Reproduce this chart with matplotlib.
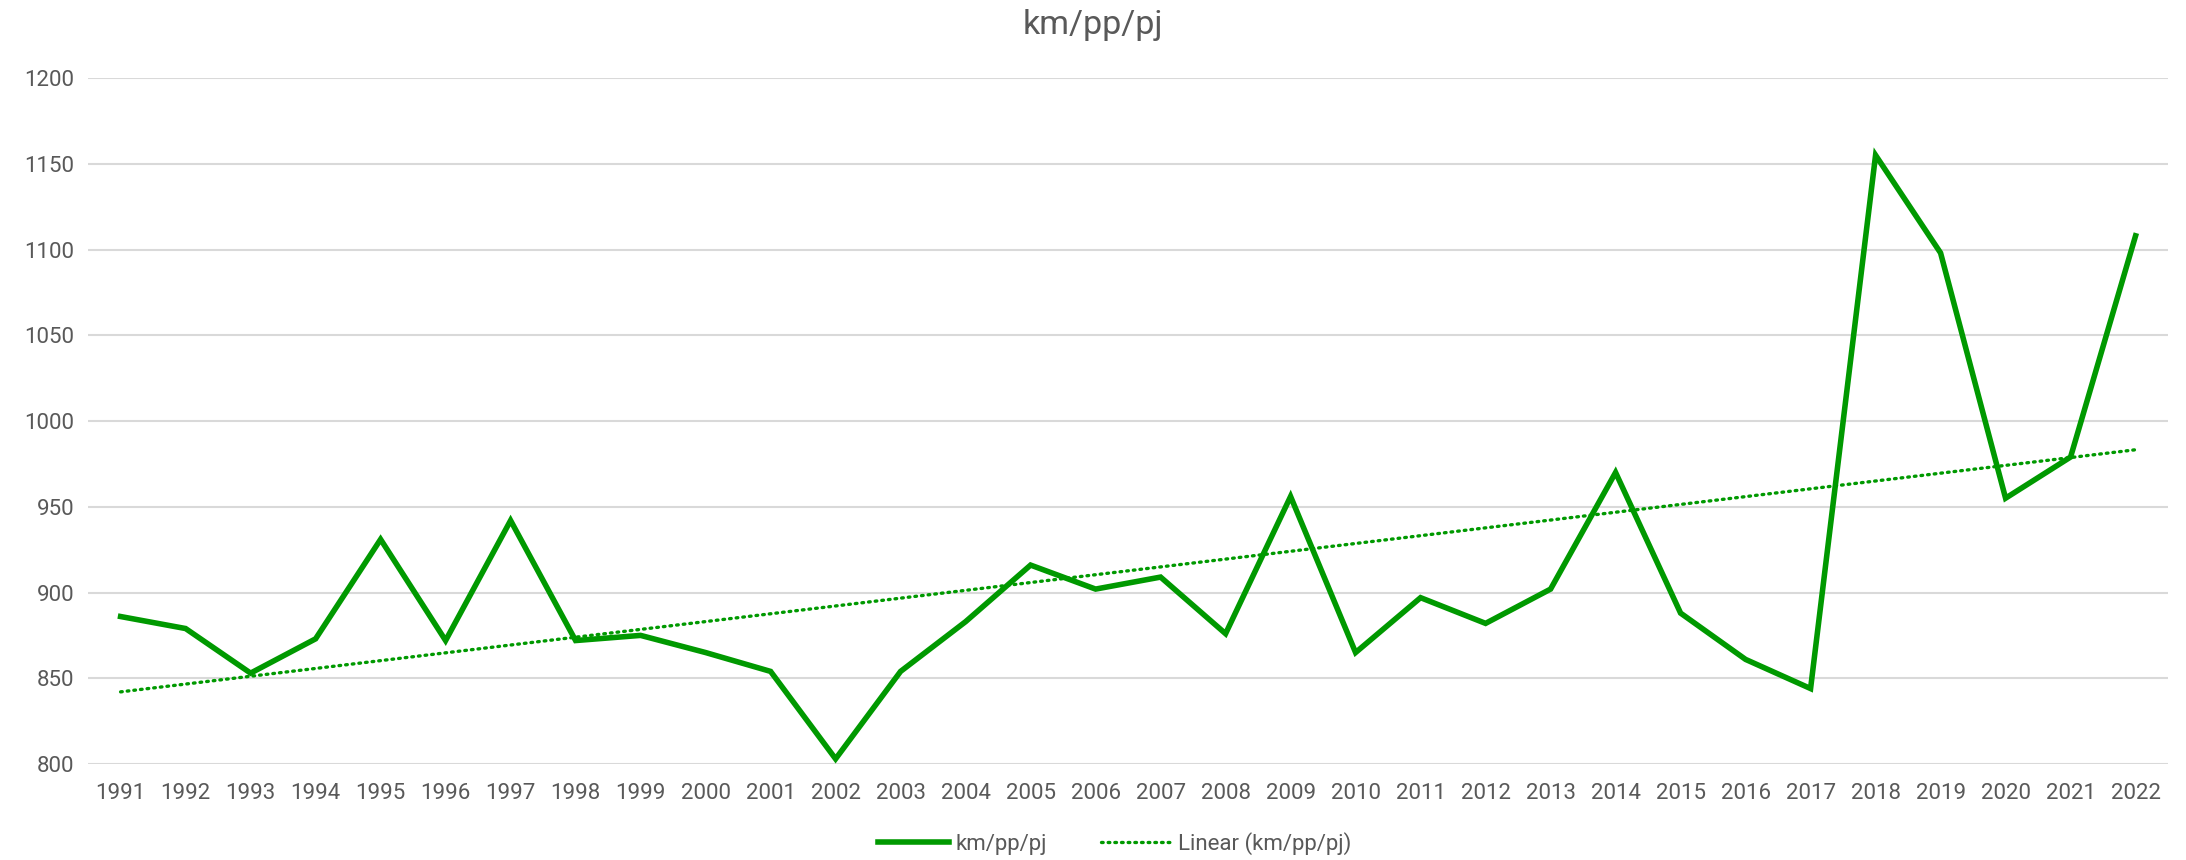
import numpy as np
import matplotlib.pyplot as plt

plt.rcParams['font.family'] = ['Roboto', 'DejaVu Sans']

years = list(range(1991, 2023))
km_pp_pj = [886, 879, 853, 873, 931, 872, 942, 872, 875, 865, 854, 803,
            854, 883, 916, 902, 909, 876, 956, 865, 897, 882, 902, 970,
            888, 861, 844, 1155, 1098, 955, 979, 1108]

green = '#009900'
grey = '#595959'

x = np.arange(len(years))
# linear trend like the spreadsheet does
slope, icpt = np.polyfit(x, km_pp_pj, 1)
trend = slope * x + icpt

fig = plt.figure(figsize=(21.86, 8.6), dpi=100)
ax = fig.add_axes([0.0403, 0.1116, 0.9515, 0.7977])

ax.plot(x, km_pp_pj, color=green, lw=4, solid_joinstyle='miter', label='km/pp/pj', zorder=3)
ax.plot(x, trend, color=green, lw=2.4, linestyle=(0, (0.5, 1.5)), dash_capstyle='round',
        label='Linear (km/pp/pj)', zorder=2)

ax.set_xlim(-0.5, len(years) - 0.5)
ax.set_ylim(800, 1200)
ax.set_yticks(range(800, 1201, 50))
ax.set_xticks(x)
ax.set_xticklabels([str(y) for y in years])
ax.grid(axis='y', color='#d9d9d9', lw=1.5)
ax.set_axisbelow(True)
for s in ax.spines.values():
    s.set_visible(False)
ax.tick_params(length=0, labelsize=16, labelcolor=grey)
ax.tick_params(axis='x', pad=14)
ax.tick_params(axis='y', pad=10)

fig.text(0.5, 0.971, 'km/pp/pj', ha='center', va='center', fontsize=24.5, color=grey)

fig.legend(loc='center', bbox_to_anchor=(0.51, 0.019), ncol=2, frameon=False,
           fontsize=16, labelcolor=grey, handlelength=3.2, columnspacing=2.4,
           handletextpad=0.3)

fig.savefig('out.png', dpi=100)
